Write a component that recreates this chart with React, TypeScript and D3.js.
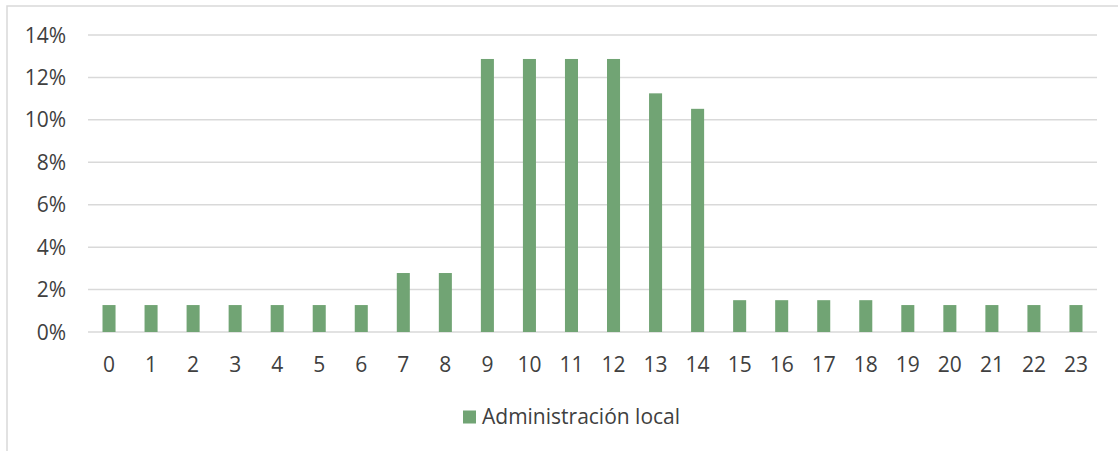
import React from "react";
import * as d3 from "d3";

const hours = ["0","1","2","3","4","5","6","7","8","9","10","11","12","13","14","15","16","17","18","19","20","21","22","23"];
const values = [1.27,1.27,1.27,1.27,1.27,1.27,1.27,2.78,2.78,12.87,12.87,12.87,12.87,11.25,10.52,1.5,1.5,1.5,1.5,1.27,1.27,1.27,1.27,1.27];
const yTicks = [0,2,4,6,8,10,12,14];
const seriesName = "Administración local";

const W = 1118, H = 451;
const FONT = "'Open Sans', sans-serif";

export default function App() {
  const x = d3.scaleBand<string>().domain(hours).range([88, 1097]).paddingInner(0.69).paddingOuter(0.345);
  const y = d3.scaleLinear().domain([0, 14]).range([332, 35]);
  const color = "#71A474";
  return (
    <svg width={W} height={H} style={{ position: "absolute", left: 0, top: 0 }} fontFamily={FONT}>
      <rect x={0} y={0} width={W} height={H} fill="#fff" />
      <rect x={7} y={6} width={W} height={H} fill="none" stroke="#d9d9d9" strokeWidth={1.5} />
      {yTicks.map(t => (
        <g key={t}>
          <line x1={88} x2={1097} y1={y(t)} y2={y(t)} stroke="#d9d9d9" strokeWidth={1.5} />
          <text x={66} y={y(t)} dy="0.36em" textAnchor="end" fontSize={21} fill="#404040">{t + "%"}</text>
        </g>
      ))}
      {hours.map((h, i) => (
        <rect key={h} x={x(h)} y={y(values[i])} width={x.bandwidth()} height={y(0) - y(values[i])} fill={color} />
      ))}
      {hours.map(h => (
        <text key={h} x={(x(h) as number) + x.bandwidth() / 2} y={372} textAnchor="middle" fontSize={21} fill="#404040">{h}</text>
      ))}
      <rect x={463} y={410.5} width={13} height={13} fill={color} />
      <text x={482} y={423.5} fontSize={21} fill="#404040">{seriesName}</text>
    </svg>
  );
}
